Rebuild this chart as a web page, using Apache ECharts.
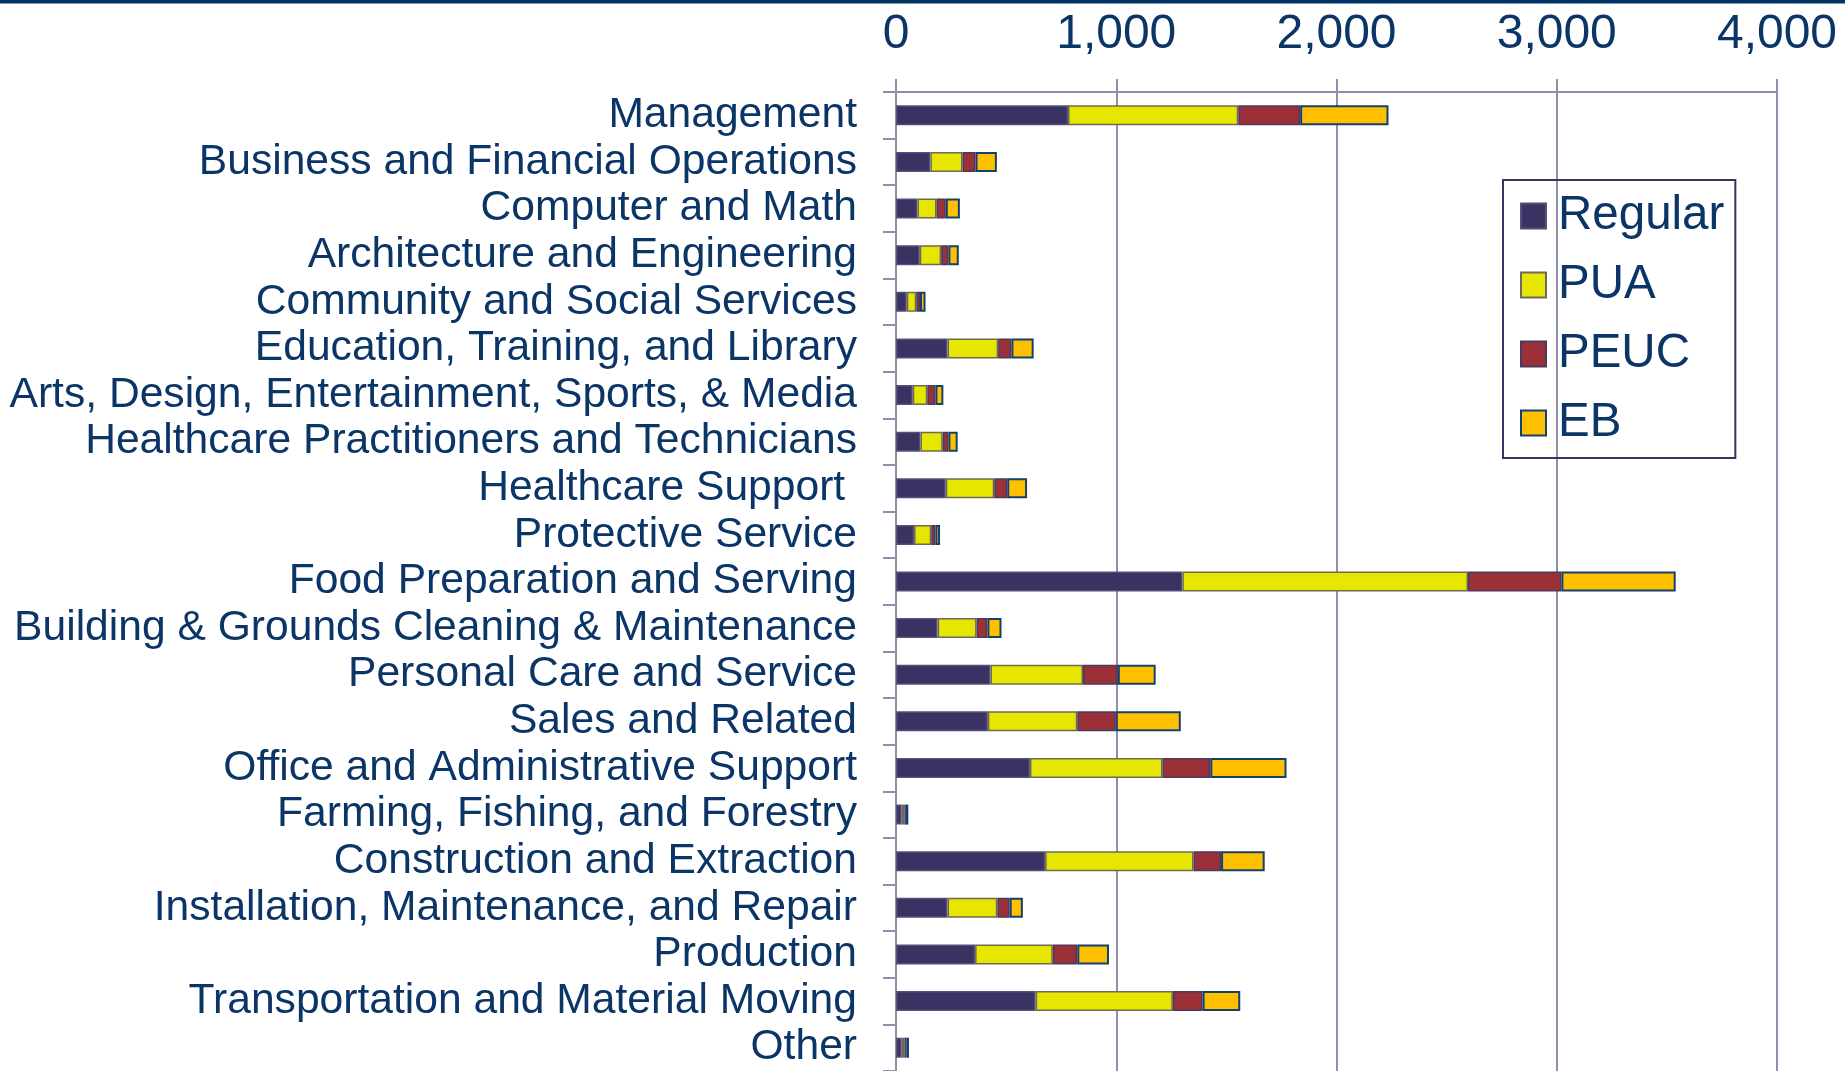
<!DOCTYPE html>
<html>
<head>
<meta charset="utf-8">
<script src="https://cdn.jsdelivr.net/npm/echarts@6/dist/echarts.min.js"></script>
<style>
html,body{margin:0;padding:0;background:#fff;}
#chart{width:1845px;height:1071px;}
</style>
</head>
<body>
<div id="chart"></div>
<script>
const categories = [
  "Management",
  "Business and Financial Operations",
  "Computer and Math",
  "Architecture and Engineering",
  "Community and Social Services",
  "Education, Training, and Library",
  "Arts, Design, Entertainment, Sports, & Media",
  "Healthcare Practitioners and Technicians",
  "Healthcare Support ",
  "Protective Service",
  "Food Preparation and Serving",
  "Building & Grounds Cleaning & Maintenance",
  "Personal Care and Service",
  "Sales and Related",
  "Office and Administrative Support",
  "Farming, Fishing, and Forestry",
  "Construction and Extraction",
  "Installation, Maintenance, and Repair",
  "Production",
  "Transportation and Material Moving",
  "Other"
];
const regular = [781,156,97,108,49,234,76,111,226,82,1300,189,429,417,608,26,677,234,359,634,26];
const pua     = [773,146,87,97,43,230,66,101,220,78,1297,177,420,406,602,12,674,226,353,623,12];
const peuc    = [281,59,42,33,17,60,37,26,59,19,424,49,158,175,217,7,125,56,111,135,9];
const eb      = [401,97,64,47,25,101,36,42,90,21,519,64,172,295,346,11,198,60,144,171,12];
const seriesNames = ["Regular","PUA","PEUC","EB"];
const xTicks = {min:0, max:4000, interval:1000};

const FONT = "'Liberation Sans', Arial, 'DejaVu Sans', sans-serif";
const TXT = '#0b3566';
const GRID = '#8f8fa8';
const colors = ['#3a3262','#e6e600','#9b3038','#ffc000'];
const borders = ['#55507a','#6e6a55','#4a3a60','#14406e'];
const dataSets = [regular, pua, peuc, eb];

const chart = echarts.init(document.getElementById('chart'));
chart.setOption({
  animation:false,
  backgroundColor:'#fff',
  graphic:[{type:'rect', left:0, top:0, shape:{width:1845, height:3.5}, style:{fill:'#003366'}}],
  grid:{left:896, top:92, width:881, height:983.6, containLabel:false},
  legend:{
    orient:'vertical', left:1503, top:180,
    padding:[12,11,11,17],
    borderColor:'#3a3262', borderWidth:2,
    icon:'rect',
    itemWidth:25, itemHeight:25, itemGap:21,
    textStyle:{fontFamily:FONT, fontSize:47.5, color:TXT, lineHeight:46, padding:[0,0,0,7]},
    data:seriesNames
  },
  xAxis:{
    type:'value', position:'top', min:xTicks.min, max:xTicks.max, interval:xTicks.interval,
    axisLine:{show:true, lineStyle:{color:GRID, width:2}},
    axisTick:{show:true, length:13, lineStyle:{color:GRID, width:2}},
    splitLine:{show:true, lineStyle:{color:GRID, width:2}},
    axisLabel:{fontFamily:FONT, fontSize:48, color:TXT, margin:33,
      formatter:v=>v.toLocaleString('en-US')}
  },
  yAxis:{
    type:'category', inverse:true, data:categories,
    axisLine:{show:true, lineStyle:{color:GRID, width:2}},
    axisTick:{show:true, length:13, lineStyle:{color:GRID, width:2}},
    axisLabel:{fontFamily:FONT, fontSize:42.6, color:TXT, margin:39, interval:0}
  },
  series: seriesNames.map((n,i)=>({
    name:n, type:'bar', stack:'total', barWidth:20,
    data:dataSets[i],
    itemStyle:{color:colors[i], borderColor:borders[i], borderWidth:i===3?2:1.5}
  }))
});
</script>
</body>
</html>
